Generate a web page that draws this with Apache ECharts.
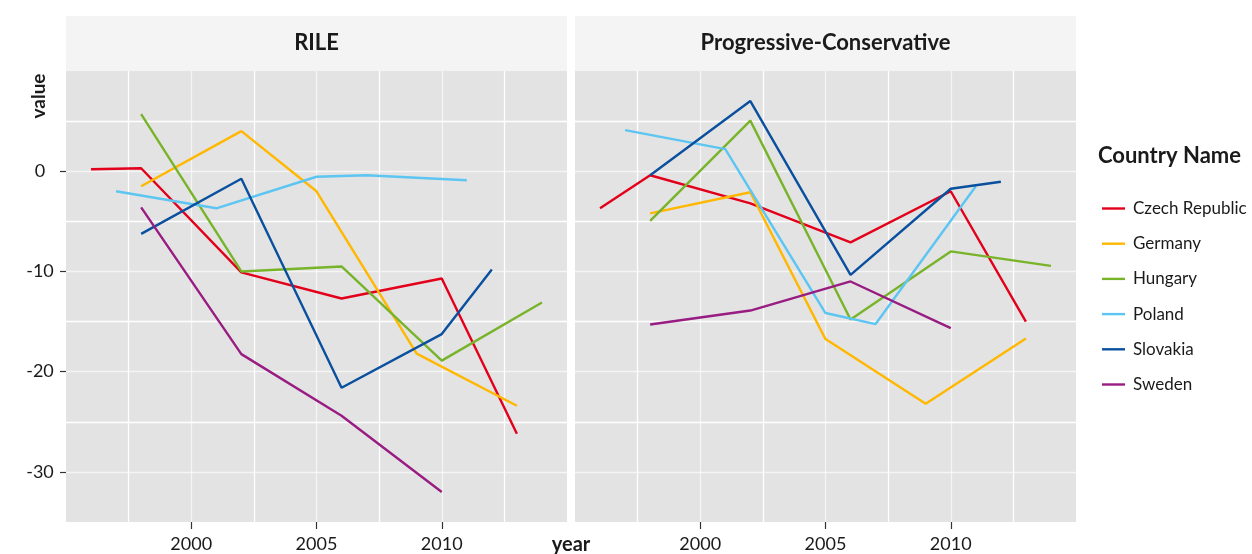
<!DOCTYPE html>
<html>
<head>
<meta charset="utf-8">
<script src="https://cdn.jsdelivr.net/npm/echarts@6/dist/echarts.min.js"></script>
<style>html,body{margin:0;padding:0;background:#fff;}#chart{width:1252px;height:554px;}</style>
</head>
<body>
<div id="chart"></div>
<script>
// ---- data ----
const countries = ['Czech Republic', 'Germany', 'Hungary', 'Poland', 'Slovakia', 'Sweden'];
const panelTitles = ['RILE', 'Progressive-Conservative'];

const czechYears = [1996, 1998, 2002, 2006, 2010, 2013];
const czechRile = [0.2, 0.3, -10.1, -12.7, -10.7, -26.2];
const czechPC = [-3.7, -0.4, -3.2, -7.1, -2.0, -15.0];

const germanyYears = [1998, 2002, 2005, 2009, 2013];
const germanyRile = [-1.5, 4.0, -2.0, -18.2, -23.4];
const germanyPC = [-4.2, -2.1, -16.75, -23.2, -16.7];

const hungaryYears = [1998, 2002, 2006, 2010, 2014];
const hungaryRile = [5.7, -10.0, -9.5, -18.9, -13.1];
const hungaryPC = [-4.95, 5.05, -14.8, -8.0, -9.45];

const polandYears = [1997, 2001, 2005, 2007, 2011];
const polandRile = [-2.0, -3.7, -0.55, -0.4, -0.9];
const polandPC = [4.1, 2.2, -14.15, -15.25, -1.5];

const slovakiaYears = [1998, 2002, 2006, 2010, 2012];
const slovakiaRile = [-6.25, -0.75, -21.6, -16.25, -9.8];
const slovakiaPC = [-0.4, 7.0, -10.35, -1.75, -1.05];

const swedenYears = [1998, 2002, 2006, 2010];
const swedenRile = [-3.6, -18.25, -24.4, -32.0];
const swedenPC = [-15.3, -13.9, -11.0, -15.65];

const xTickLabels = [2000, 2005, 2010];
const yTickLabels = [-30, -20, -10, 0];

// ---- styling ----
const colors = ['#e3001b', '#ffb700', '#78b42a', '#5cc5f2', '#0a509e', '#981c82'];
const FONT = 'Lato';
const TXT = '#1a1a1a';

const yearsList = [czechYears, germanyYears, hungaryYears, polandYears, slovakiaYears, swedenYears];
const rileList = [czechRile, germanyRile, hungaryRile, polandRile, slovakiaRile, swedenRile];
const pcList = [czechPC, germanyPC, hungaryPC, polandPC, slovakiaPC, swedenPC];

function pairs(xs, ys) { return xs.map((x, i) => [x, ys[i]]); }

const series = [];
[rileList, pcList].forEach((list, g) => {
  countries.forEach((name, i) => {
    series.push({
      name: name,
      type: 'line',
      xAxisIndex: g,
      yAxisIndex: g,
      data: pairs(yearsList[i], list[i]),
      symbol: 'none',
      showSymbol: false,
      lineStyle: { width: 2.4, color: colors[i] },
      itemStyle: { color: colors[i] },
      z: 3
    });
  });
});

const gridL = [66, 575];
const gridW = 501;
const gridTop = 71;
const gridH = 451;
const X_MIN = 1995, X_MAX = 2015, Y_MIN = -35, Y_MAX = 10;

// main axes: scales + gridlines (major/minor alternate)
const mainX = [0, 1].map(g => ({
  type: 'value', gridIndex: g, min: X_MIN, max: X_MAX, interval: 2.5, position: 'bottom',
  axisLine: { show: false, onZero: false },
  axisTick: { show: false },
  axisLabel: { show: false },
  splitLine: { show: true, showMinLine: false, showMaxLine: false, lineStyle: { color: ['#ffffff', 'rgba(255,255,255,0.65)'], width: 1.3 } }
}));
const mainY = [0, 1].map(g => ({
  type: 'value', gridIndex: g, min: Y_MIN, max: Y_MAX, interval: 5, position: 'left',
  axisLine: { show: false, onZero: false },
  axisTick: { show: false },
  axisLabel: { show: false },
  splitLine: { show: true, showMinLine: false, showMaxLine: false, lineStyle: { color: ['rgba(255,255,255,0.65)', '#ffffff'], width: 1.3 } }
}));
// tick/label axes
const tickX = [0, 1].map(g => ({
  type: 'value', gridIndex: g, min: X_MIN, max: X_MAX, position: 'bottom',
  axisLine: { show: false, onZero: false },
  axisTick: { show: true, customValues: xTickLabels, length: 7, lineStyle: { color: '#333', width: 1.2 } },
  axisLabel: { customValues: xTickLabels, margin: 13, fontSize: 18, color: TXT, fontFamily: FONT, formatter: v => String(v) },
  splitLine: { show: false }
}));
const tickY = [{
  type: 'value', gridIndex: 0, min: Y_MIN, max: Y_MAX, position: 'left',
  axisLine: { show: false, onZero: false },
  axisTick: { show: true, customValues: yTickLabels, length: 6, lineStyle: { color: '#333', width: 1.2 } },
  axisLabel: { customValues: yTickLabels, margin: 26, align: 'center', fontSize: 18, color: TXT, fontFamily: FONT, formatter: v => String(v) },
  splitLine: { show: false }
}];

const option = {
  animation: false,
  color: colors,
  grid: gridL.map(l => ({ left: l, top: gridTop, width: gridW, height: gridH, show: true, backgroundColor: '#e3e3e3', borderWidth: 0 })),
  xAxis: mainX.concat(tickX),
  yAxis: mainY.concat(tickY),
  legend: {
    orient: 'vertical', left: 1097, top: 195,
    itemWidth: 23, itemHeight: 14, itemGap: 18.2,
    icon: 'path://M0,0 H23 V2.4 H0 Z',
    textStyle: { fontSize: 17, color: TXT, fontFamily: FONT, padding: [0, 0, 0, 3] },
    data: countries
  },
  graphic: [
    { type: 'rect', shape: { x: gridL[0], y: 16, width: gridW, height: 55 }, style: { fill: '#f4f4f4' }, silent: true },
    { type: 'rect', shape: { x: gridL[1], y: 16, width: gridW, height: 55 }, style: { fill: '#f4f4f4' }, silent: true },
    { type: 'text', x: gridL[0] + gridW / 2, y: 43, style: { text: panelTitles[0], fontSize: 22, fontWeight: 'bold', fontFamily: FONT, fill: TXT, textAlign: 'center', textVerticalAlign: 'middle' } },
    { type: 'text', x: gridL[1] + gridW / 2, y: 43, style: { text: panelTitles[1], fontSize: 22, fontWeight: 'bold', fontFamily: FONT, fill: TXT, textAlign: 'center', textVerticalAlign: 'middle' } },
    { type: 'text', x: 1098, y: 156, style: { text: 'Country Name', fontSize: 22, fontWeight: 'bold', fontFamily: FONT, fill: TXT, textAlign: 'left', textVerticalAlign: 'middle' } },
    { type: 'text', x: 39, y: 96, rotation: Math.PI / 2, style: { text: 'value', fontSize: 19, fontWeight: 'bold', fontFamily: FONT, fill: TXT, textAlign: 'center', textVerticalAlign: 'middle' } },
    { type: 'text', x: 571, y: 545, style: { text: 'year', fontSize: 20, fontWeight: 'bold', fontFamily: FONT, fill: TXT, textAlign: 'center', textVerticalAlign: 'middle' } }
  ],
  series: series
};

const chart = echarts.init(document.getElementById('chart'), null, { renderer: 'canvas' });
chart.setOption(option);
</script>
</body>
</html>
